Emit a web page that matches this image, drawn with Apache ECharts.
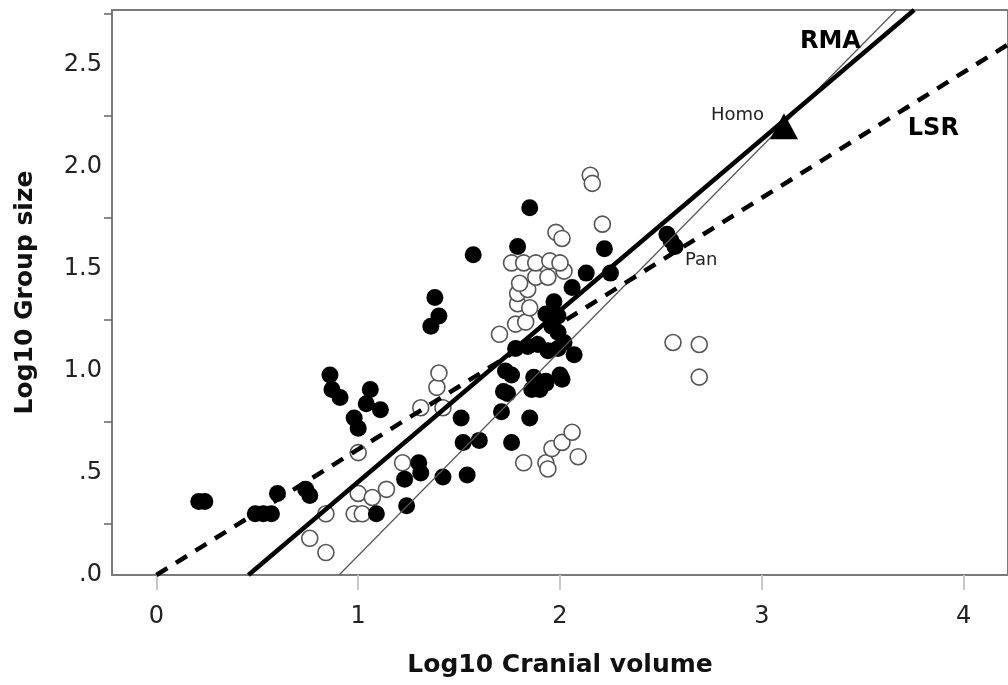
<!DOCTYPE html>
<html>
<head>
<meta charset="utf-8">
<script src="https://cdn.jsdelivr.net/npm/echarts@6/dist/echarts.min.js"></script>
<style>html,body{margin:0;padding:0;background:#fff;}#c{width:1008px;height:685px;}</style>
</head>
<body>
<div id="c"></div>
<script>
// Filled circles: [log10 cranial volume, log10 group size]
const filledPts = [
  [0.21,0.36],[0.24,0.36],[0.49,0.30],[0.53,0.30],[0.57,0.30],[0.60,0.40],[0.74,0.42],[0.76,0.39],
  [0.86,0.98],[0.87,0.91],[0.91,0.87],[0.98,0.77],[1.00,0.72],[1.06,0.91],[1.04,0.84],[1.11,0.81],
  [1.09,0.30],[1.24,0.34],[1.23,0.47],[1.30,0.55],[1.31,0.50],[1.42,0.48],[1.54,0.49],[1.52,0.65],
  [1.60,0.66],[1.76,0.65],[1.51,0.77],[1.38,1.36],[1.40,1.27],[1.36,1.22],[1.57,1.57],[1.79,1.61],
  [1.85,1.80],[2.22,1.60],[2.13,1.48],[2.25,1.48],[2.06,1.41],[1.97,1.34],[1.93,1.28],[1.99,1.27],
  [1.96,1.22],[1.99,1.19],[1.78,1.11],[1.84,1.12],[1.89,1.13],[1.94,1.10],[1.99,1.11],[2.02,1.14],
  [2.07,1.08],[1.73,1.00],[1.76,0.98],[1.87,0.97],[1.93,0.95],[2.00,0.98],[1.86,0.91],[1.90,0.91],
  [1.72,0.90],[1.74,0.89],[1.71,0.80],[1.85,0.77],[1.93,0.94],[2.01,0.96],
  [2.53,1.67],[2.55,1.64],[2.57,1.61]
];
// Open circles
const openPts = [
  [0.76,0.18],[0.84,0.11],[0.84,0.30],[0.98,0.30],[1.02,0.30],[1.00,0.40],[1.07,0.38],[1.14,0.42],
  [1.22,0.55],[1.00,0.60],[1.31,0.82],[1.42,0.82],[1.39,0.92],[1.40,0.99],[1.70,1.18],[1.78,1.23],
  [1.83,1.24],[1.79,1.33],[1.85,1.31],[1.79,1.38],[1.84,1.40],[1.80,1.43],[1.88,1.46],[1.94,1.46],
  [2.02,1.49],[1.76,1.53],[1.82,1.53],[1.88,1.53],[1.95,1.54],[2.00,1.53],[1.98,1.68],[2.01,1.65],
  [2.21,1.72],[2.15,1.96],[2.16,1.92],[2.56,1.14],[2.69,1.13],[2.69,0.97],[1.82,0.55],[1.93,0.55],
  [1.94,0.52],[1.96,0.62],[2.01,0.65],[2.06,0.70],[2.09,0.58]
];
const homoPt = [3.11, 2.20];
// Regression lines (end points)
const lsrLine = [[0, 0], [4.30, 2.65]];
const rmaLine = [[0.456, 0], [3.755, 2.77]];
const thinLine = [[0.905, 0], [3.667, 2.77]];
// Line / taxon labels
const textLabels = [
  {name: 'RMA', value: [3.34, 2.615], bold: true},
  {name: 'LSR', value: [3.85, 2.19], bold: true},
  {name: 'Homo', value: [2.88, 2.255], bold: false},
  {name: 'Pan', value: [2.70, 1.545], bold: false}
];
const xTicks = [0, 1, 2, 3, 4];
const yLabels = [0, 0.5, 1.0, 1.5, 2.0, 2.5];
const yMinorTicks = [0.25, 0.75, 1.25, 1.75, 2.25, 2.75];

const chart = echarts.init(document.getElementById('c'), null, {renderer: 'canvas'});
const tickFont = {fontFamily: 'DejaVu Sans', fontSize: 24, color: '#222'};
chart.setOption({
  animation: false,
  backgroundColor: '#fff',
  grid: {left: 112, top: 10, width: 906, bottom: 110, show: true, borderColor: '#7a7a7a', borderWidth: 2},
  xAxis: {
    type: 'value', min: -0.22, max: 4.22,
    name: 'Log10 Cranial volume', nameLocation: 'middle', nameGap: 78,
    nameTextStyle: {fontFamily: 'DejaVu Sans', fontWeight: 'bold', fontSize: 25, color: '#111'},
    axisLine: {show: true, onZero: false, lineStyle: {color: '#7a7a7a', width: 2}},
    axisTick: {show: true, customValues: xTicks, length: 15, inside: false, lineStyle: {color: '#c8c8c8', width: 2}},
    axisLabel: Object.assign({customValues: xTicks, margin: 30}, tickFont),
    splitLine: {show: false}
  },
  yAxis: {
    type: 'value', min: 0, max: 2.77,
    name: 'Log10 Group size', nameLocation: 'middle', nameGap: 74,
    nameTextStyle: {fontFamily: 'DejaVu Sans', fontWeight: 'bold', fontSize: 25, color: '#111'},
    axisLine: {show: true, onZero: false, lineStyle: {color: '#7a7a7a', width: 2}},
    axisTick: {show: true, customValues: yMinorTicks, length: 8, lineStyle: {color: '#666', width: 1.5}},
    axisLabel: Object.assign({
      customValues: yLabels, margin: 10, padding: [6, 0, 0, 0],
      formatter: function (v) { return v < 1 ? '.' + String(Math.round(v * 10) % 10) : v.toFixed(1); }
    }, tickFont),
    splitLine: {show: false}
  },
  series: [
    {
      type: 'scatter', data: openPts, symbol: 'circle', symbolSize: 16, z: 2,
      itemStyle: {color: '#fff', borderColor: '#555', borderWidth: 1.6, opacity: 1}
    },
    {
      type: 'scatter', data: filledPts, symbol: 'circle', symbolSize: 17, z: 3,
      itemStyle: {color: '#000', opacity: 1}
    },
    {
      type: 'line', data: thinLine, showSymbol: false, z: 4, clip: true,
      lineStyle: {color: '#555', width: 1.2}
    },
    {
      type: 'line', data: lsrLine, showSymbol: false, z: 5, clip: true,
      lineStyle: {color: '#000', width: 4.5, type: [13, 10]}
    },
    {
      type: 'line', data: rmaLine, showSymbol: false, z: 5, clip: true,
      lineStyle: {color: '#000', width: 4.5}
    },
    {
      type: 'scatter', data: [homoPt], symbol: 'triangle', symbolSize: [28, 26], z: 6,
      itemStyle: {color: '#000', opacity: 1}
    },
    {
      type: 'scatter', symbolSize: 0, z: 7,
      itemStyle: {opacity: 1},
      data: textLabels.map(function (t) {
        return {
          name: t.name, value: t.value,
          label: {
            show: true, position: 'inside', formatter: '{b}',
            fontFamily: 'DejaVu Sans', fontWeight: t.bold ? 'bold' : 'normal',
            fontSize: t.bold ? 24 : 18, color: t.bold ? '#000' : '#222', opacity: 1
          }
        };
      })
    }
  ]
});
</script>
</body>
</html>
